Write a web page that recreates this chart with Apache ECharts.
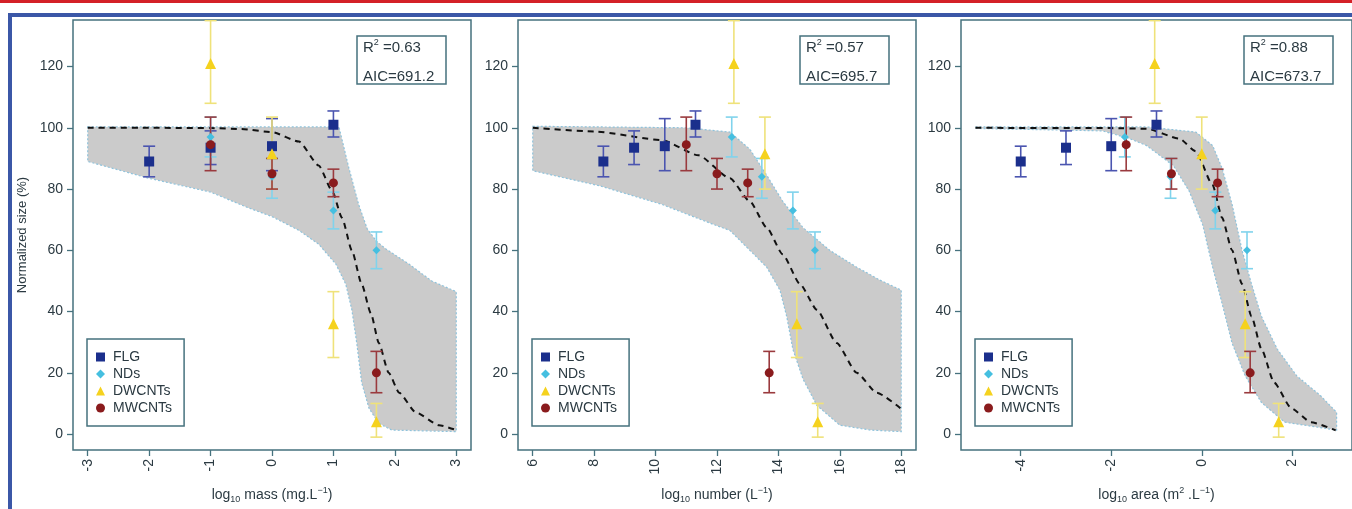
<!DOCTYPE html>
<html>
<head>
<meta charset="utf-8">
<title>Normalized size vs dose</title>
<script src="https://cdn.jsdelivr.net/npm/echarts@6/dist/echarts.min.js"></script>
<style>
    html, body { margin: 0; padding: 0; background: #fff; }
    #chart { width: 1352px; height: 509px; }
</style>
</head>
<body>
<div id="chart"></div>
<script>
    // normalized size (%) with error bar ends, same for the three panels
    var sizeFLG = [89, 93.5, 94, 101];
    var loFLG = [84, 88, 86, 97];
    var hiFLG = [94, 99, 103, 105.5];
    var sizeNDs = [97, 84, 73, 60];
    var loNDs = [90.5, 77, 67, 54];
    var hiNDs = [103.5, 90, 79, 66];
    var sizeDW = [121, 91.5, 36, 4];
    var loDW = [108, 80, 25, -1];
    var hiDW = [135, 103.5, 46.5, 10];
    var sizeMW = [94.5, 85, 82, 20];
    var loMW = [86, 80, 77.5, 13.5];
    var hiMW = [103.5, 90, 86.5, 27];

    // log10 mass
    var massFLG = [-2, -1, 0, 1];
    var massNDs = [-1, 0, 1, 1.7];
    var massDW = [-1, 0, 1, 1.7];
    var massMW = [-1, 0, 1, 1.7];
    // log10 number
    var numFLG = [8.3, 9.3, 10.3, 11.3];
    var numNDs = [12.48, 13.46, 14.47, 15.19];
    var numDW = [12.55, 13.56, 14.6, 15.28];
    var numMW = [11.0, 12.0, 13.0, 13.7];
    // log10 area
    var areaFLG = [-4, -3, -2, -1];
    var areaNDs = [-1.7, -0.69, 0.3, 1.0];
    var areaDW = [-1.04, 0.0, 0.96, 1.7];
    var areaMW = [-1.67, -0.67, 0.35, 1.07];

    // fitted curves
    var fitMassX = [-3, -2, -1, -0.5, 0, 0.44, 0.76, 0.98, 1.14, 1.3, 1.46, 1.61, 1.74, 1.9, 2.07, 2.34, 2.72, 3.0];
    var fitMassY = [100, 100, 99.9, 99.6, 98.6, 95.5, 87.7, 79.4, 70.6, 60, 49, 39.4, 29.7, 20, 13.5, 7.1, 2.9, 1.3];
    var fitNumX = [6, 8, 10.2, 11.4, 12.42, 13.07, 13.62, 14.14, 14.7, 15.25, 15.9, 16.55, 17.2, 18];
    var fitNumY = [100, 98.8, 96, 91, 83.5, 76, 67.4, 58.7, 49, 40.6, 29.7, 20, 13.5, 8.2];
    var fitAreaX = [-5, -2, -1.22, -0.5, -0.13, 0.24, 0.45, 0.67, 0.89, 1.1, 1.32, 1.6, 1.98, 2.41, 2.96];
    var fitAreaY = [100, 99.9, 99.7, 96.5, 92.3, 81.3, 70.6, 60, 49, 38.4, 27.7, 16.8, 8.4, 3.9, 1.2];

    // confidence bands
    var upMassX = [-3, 1.09, 1.25, 1.41, 1.55, 1.7, 1.85, 2.23, 2.6, 3.0];
    var upMassY = [100.3, 100.3, 87, 75, 67, 63, 60.5, 55.5, 50, 46.5];
    var lowMassX = [-3, -2, -1, -0.4, 0, 0.44, 0.76, 1.04, 1.2, 1.3, 1.38, 1.46, 1.58, 1.74, 1.95, 3.0];
    var lowMassY = [89, 83.5, 79, 74, 71, 66.5, 62, 55.5, 49, 40.6, 29.7, 16.8, 8.4, 3.5, 1.3, 0.8];
    var upNumX = [6, 11, 12.42, 13.07, 13.62, 14.14, 14.8, 15.67, 16.55, 17.3, 18];
    var upNumY = [100.5, 100, 98.6, 93, 84.5, 76, 67.4, 60, 54.5, 50.3, 47];
    var lowNumX = [6, 8.2, 10.2, 12.0, 12.42, 13.07, 13.62, 14.05, 14.27, 14.47, 14.8, 15.25, 16.0, 17.0, 18];
    var lowNumY = [86, 81, 75, 68, 66.5, 60, 54.5, 47, 38.4, 27.7, 18, 9.4, 2.9, 1.3, 0.8];
    var upAreaX = [-5, -1.22, -0.13, 0.24, 0.45, 0.67, 0.89, 1.1, 1.32, 1.67, 2.1, 2.62, 2.98];
    var upAreaY = [100.3, 100.3, 98.6, 94.2, 86.8, 75, 60, 49, 38.4, 27.7, 19, 12.6, 7.1];
    var lowAreaX = [-5, -2.2, -1.6, -1.22, -0.63, -0.28, 0.02, 0.24, 0.45, 0.67, 0.96, 1.32, 1.83, 2.98];
    var lowAreaY = [99.8, 99, 96.5, 94.2, 87.7, 79.4, 68.4, 54.5, 42.6, 29.7, 19, 10.3, 3.9, 1.3];

    var yTicks = [0, 20, 40, 60, 80, 100, 120];
    var massTicks = [-3, -2, -1, 0, 1, 2, 3];
    var numTicks = [6, 8, 10, 12, 14, 16, 18];
    var areaTicks = [-4, -2, 0, 2];
    var statR2 = ['0.63', '0.57', '0.88'];
    var statAIC = ['691.2', '695.7', '673.7'];

    var names = ['FLG', 'NDs', 'DWCNTs', 'MWCNTs'];
    var symbols = ['rect', 'diamond', 'triangle', 'circle'];
    var symbolSizes = [10, 8, 11, 9];
    var colors = ['#1b2f8c', '#45bfe0', '#f5d21e', '#8a1b1d'];
    var errColors = ['#4b55b0', '#80d3ec', '#efe27a', '#9a3a3e'];
    var sizes = [sizeFLG, sizeNDs, sizeDW, sizeMW];
    var lows = [loFLG, loNDs, loDW, loMW];
    var highs = [hiFLG, hiNDs, hiDW, hiMW];

    var axisColor = '#46727e';
    var textColor = '#2b3a42';
    var fontFamily = '"Liberation Sans", Arial, sans-serif';

    var panels = [{
        left: 73, min: -3.24, max: 3.24, ticks: massTicks,
        x: [massFLG, massNDs, massDW, massMW],
        fitX: fitMassX, fitY: fitMassY,
        upX: upMassX, upY: upMassY, lowX: lowMassX, lowY: lowMassY,
        name: '{a|log}{b|10}{a| mass (mg.L}{c|\u22121}{a|)}',
        boxLeft: 357, legendLeft: 87
    }, {
        left: 518, min: 5.52, max: 18.48, ticks: numTicks,
        x: [numFLG, numNDs, numDW, numMW],
        fitX: fitNumX, fitY: fitNumY,
        upX: upNumX, upY: upNumY, lowX: lowNumX, lowY: lowNumY,
        name: '{a|log}{b|10}{a| number (L}{c|\u22121}{a|)}',
        boxLeft: 800, legendLeft: 532
    }, {
        left: 961, min: -5.32, max: 3.32, ticks: areaTicks,
        x: [areaFLG, areaNDs, areaDW, areaMW],
        fitX: fitAreaX, fitY: fitAreaY,
        upX: upAreaX, upY: upAreaY, lowX: lowAreaX, lowY: lowAreaY,
        name: '{a|log}{b|10}{a| area (m}{c|2}{a| .L}{c|\u22121}{a|)}',
        boxLeft: 1244, legendLeft: 975
    }];

    var nameRich = {
        a: { fontSize: 14, lineHeight: 18, color: textColor, fontFamily: fontFamily },
        b: { fontSize: 9, lineHeight: 12, verticalAlign: 'bottom', color: textColor, fontFamily: fontFamily },
        c: { fontSize: 9, lineHeight: 10, verticalAlign: 'top', color: textColor, fontFamily: fontFamily }
    };

    function bandItem(points){
        return function(params, api){
            if(params.dataIndex !== 0){
                return;
            }
            var pts = [];
            for(var i = 0; i < points.length; i++){
                pts.push(api.coord(points[i]));
            }
            return {
                type: 'polygon',
                shape: { points: pts },
                style: { fill: '#cbcbcb', stroke: '#8fc3dc', lineWidth: 1.2, lineDash: [2, 2] }
            };
        };
    }

    function errItem(color){
        return function(params, api){
            var x = api.value(0);
            var p1 = api.coord([x, api.value(1)]);
            var p2 = api.coord([x, api.value(2)]);
            var w = 6;
            var style = { stroke: color, lineWidth: 1.6 };
            return {
                type: 'group',
                children: [
                    { type: 'line', shape: { x1: p1[0], y1: p1[1], x2: p2[0], y2: p2[1] }, style: style },
                    { type: 'line', shape: { x1: p1[0] - w, y1: p1[1], x2: p1[0] + w, y2: p1[1] }, style: style },
                    { type: 'line', shape: { x1: p2[0] - w, y1: p2[1], x2: p2[0] + w, y2: p2[1] }, style: style }
                ]
            };
        };
    }

    var grids = [], xAxes = [], yAxes = [], series = [], legends = [], titles = [];

    for(var p = 0; p < panels.length; p++){
        var pn = panels[p];

        grids.push({
            left: pn.left, top: 20, width: 398, height: 434,
            show: true, borderColor: axisColor, borderWidth: 1.5
        });

        xAxes.push({
            gridIndex: p, type: 'value', min: pn.min, max: pn.max,
            axisLine: { show: false, onZero: false },
            splitLine: { show: false },
            axisTick: { show: true, length: 6, customValues: pn.ticks, lineStyle: { color: axisColor, width: 1.3 } },
            axisLabel: { customValues: pn.ticks, rotate: 90, margin: 9, fontSize: 14, color: textColor, fontFamily: fontFamily },
            name: pn.name, nameLocation: 'middle', nameGap: 36,
            nameTextStyle: { rich: nameRich }
        });

        yAxes.push({
            gridIndex: p, type: 'value', min: -5.2, max: 135.2,
            axisLine: { show: false, onZero: false },
            splitLine: { show: false },
            axisTick: { show: true, length: 6, customValues: yTicks, lineStyle: { color: axisColor, width: 1.3 } },
            axisLabel: { customValues: yTicks, margin: 10, fontSize: 14, color: textColor, fontFamily: fontFamily },
            name: p === 0 ? 'Normalized size (%)' : '',
            nameLocation: 'middle', nameRotate: 90, nameGap: 44,
            nameTextStyle: { fontSize: 13, color: textColor, fontFamily: fontFamily }
        });

        var bandPts = [];
        for(var i = 0; i < pn.upX.length; i++){
            bandPts.push([pn.upX[i], pn.upY[i]]);
        }
        for(var i = pn.lowX.length - 1; i >= 0; i--){
            bandPts.push([pn.lowX[i], pn.lowY[i]]);
        }
        series.push({
            type: 'custom', xAxisIndex: p, yAxisIndex: p,
            data: bandPts, renderItem: bandItem(bandPts),
            silent: true, z: 1
        });

        var fit = [];
        for(var i = 0; i < pn.fitX.length; i++){
            fit.push([pn.fitX[i], pn.fitY[i]]);
        }
        series.push({
            type: 'line', name: 'fit' + p, xAxisIndex: p, yAxisIndex: p,
            data: fit, smooth: 0.2, smoothMonotone: 'x', showSymbol: false, silent: true,
            lineStyle: { color: '#111', width: 2, type: [6, 5] }, z: 2
        });

        for(var g = 0; g < names.length; g++){
            var err = [], pts = [];
            for(var k = 0; k < sizes[g].length; k++){
                err.push([pn.x[g][k], lows[g][k], highs[g][k]]);
                pts.push([pn.x[g][k], sizes[g][k]]);
            }
            series.push({
                type: 'custom', xAxisIndex: p, yAxisIndex: p,
                data: err, encode: { x: 0, y: [1, 2] },
                renderItem: errItem(errColors[g]), clip: true, silent: true, z: 3
            });
            series.push({
                type: 'scatter', name: names[g], xAxisIndex: p, yAxisIndex: p,
                data: pts, symbol: symbols[g], symbolSize: symbolSizes[g],
                itemStyle: { color: colors[g], opacity: 1 }, z: 4
            });
        }

        var legendData = [];
        for(var g = 0; g < names.length; g++){
            legendData.push({ name: names[g], icon: symbols[g] });
        }
        legends.push({
            left: pn.legendLeft, top: 339, orient: 'vertical',
            data: legendData, selectedMode: false,
            itemWidth: 9, itemHeight: 9, itemGap: 3,
            padding: [11, 12, 11, 9],
            borderColor: axisColor, borderWidth: 1.5,
            textStyle: { fontSize: 14, color: textColor, fontFamily: fontFamily, padding: [0, 0, 0, 3] }
        });

        titles.push({
            left: pn.boxLeft, top: 30,
            text: '{a|R}{s|2}{a| =' + statR2[p] + '}\n{a|AIC=' + statAIC[p] + '}',
            padding: [3, 12, 0, 6],
            borderColor: axisColor, borderWidth: 1.5,
            textStyle: {
                fontWeight: 'normal',
                rich: {
                    a: { fontSize: 15, lineHeight: 29, fontWeight: 'normal', color: textColor, fontFamily: fontFamily },
                    s: { fontSize: 9, lineHeight: 12, padding: [0, 0, 9, 0], fontWeight: 'normal', color: textColor, fontFamily: fontFamily }
                }
            }
        });
    }

    var myChart = echarts.init(document.getElementById('chart'));

    var option = {
        animation: false,
        backgroundColor: '#fff',
        textStyle: { fontFamily: fontFamily },
        title: titles,
        legend: legends,
        grid: grids,
        xAxis: xAxes,
        yAxis: yAxes,
        series: series,
        graphic: [
            { type: 'rect', shape: { x: 0, y: 0, width: 1352, height: 3 }, style: { fill: '#d42027' }, silent: true },
            { type: 'rect', shape: { x: 8, y: 13, width: 1344, height: 4 }, style: { fill: '#3b57a7' }, silent: true },
            { type: 'rect', shape: { x: 8, y: 13, width: 4, height: 496 }, style: { fill: '#3b57a7' }, silent: true }
        ]
    };

    myChart.setOption(option);
</script>
</body>
</html>
